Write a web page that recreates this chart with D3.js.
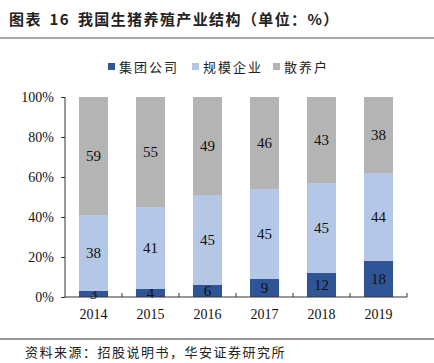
<!DOCTYPE html>
<html>
<head>
<meta charset="utf-8">
<script src="https://cdn.jsdelivr.net/npm/d3@7"></script>
<style>
body{margin:0;background:#fff;}
</style>
</head>
<body>
<div id="chart"></div>
<script>
var years=["2014","2015","2016","2017","2018","2019"];
var seriesNames=["集团公司","规模企业","散养户"];
var jituan=[3,4,6,9,12,18];
var guimo=[38,41,45,45,45,44];
var sanyang=[59,55,49,46,43,38];
var yTicks=[0,20,40,60,80,100];
var colors=["#2F5597","#B4C7E7","#B4B4B4"];

var W=434,H=363;
var cjk="'Noto Sans CJK SC', sans-serif";
var serif="'Liberation Serif', 'Times New Roman', serif";

var svg=d3.select("#chart").append("svg")
	.attr("width",W)
	.attr("height",H);

// title
svg.append("text")
	.attr("x",9)
	.attr("y",25)
	.attr("font-size","15px")
	.attr("font-weight","bold")
	.attr("font-family",cjk)
	.attr("letter-spacing","1.4px")
	.attr("word-spacing","3px")
	.attr("fill","#222")
	.text("图表 16 我国生猪养殖产业结构（单位：%）");
svg.append("line")
	.attr("x1",0).attr("x2",W)
	.attr("y1",38).attr("y2",38)
	.attr("stroke","#888").attr("stroke-width",1.5);

// legend
var legX=[108,192,273];
seriesNames.forEach(function(n,i){
	svg.append("rect")
		.attr("x",legX[i]).attr("y",63)
		.attr("width",7).attr("height",7)
		.attr("fill",colors[i]);
	svg.append("text")
		.attr("x",legX[i]+11).attr("y",72)
		.attr("font-size","13px")
		.attr("font-family",cjk)
		.attr("letter-spacing","2px")
		.attr("fill","#222")
		.text(n);
});

var x=d3.scaleBand().domain(years).range([65,407]).paddingInner(0.49).paddingOuter(0.245);
var y=d3.scaleLinear().domain([0,100]).range([297,97]);

var rows=years.map(function(yr,i){
	return {year:yr,jituan:jituan[i],guimo:guimo[i],sanyang:sanyang[i]};
});
var stack=d3.stack().keys(["jituan","guimo","sanyang"])(rows);

var layer=svg.selectAll("g.layer").data(stack).enter().append("g")
	.attr("class","layer")
	.attr("fill",function(d,i){return colors[i];});

layer.selectAll("rect").data(function(d){return d;}).enter().append("rect")
	.attr("x",function(d){return x(d.data.year);})
	.attr("y",function(d){return y(d[1]);})
	.attr("width",x.bandwidth())
	.attr("height",function(d){return y(d[0])-y(d[1]);});

layer.selectAll("text").data(function(d){return d;}).enter().append("text")
	.attr("x",function(d){return x(d.data.year)+x.bandwidth()/2;})
	.attr("y",function(d){return (y(d[0])+y(d[1]))/2+5;})
	.attr("text-anchor","middle")
	.attr("font-size","15px")
	.attr("font-family",serif)
	.attr("fill","#111")
	.text(function(d){return d[1]-d[0];});

// y axis
var yAxis=svg.append("g")
	.attr("transform","translate(65,0)")
	.call(d3.axisLeft(y).tickValues(yTicks).tickSize(4).tickFormat(function(d){return d+"%";}));
yAxis.selectAll("text")
	.attr("font-size","14px")
	.attr("font-family",serif)
	.attr("fill","#111")
	.attr("dx","-4");
yAxis.select(".domain").attr("stroke","#333").attr("d","M0,97V297");
yAxis.selectAll(".tick line").attr("stroke","#333");

// x axis
var xAxis=svg.append("g")
	.attr("transform","translate(0,297)")
	.call(d3.axisBottom(x).tickSize(0).tickPadding(12));
xAxis.select(".domain").attr("stroke","#333").attr("d","M65,0H407");
xAxis.selectAll("text")
	.attr("font-size","14px")
	.attr("font-family",serif)
	.attr("fill","#111");
var step=x.step();
years.forEach(function(yr,i){
	var bx=65+step*(i+1);
	xAxis.append("line")
		.attr("x1",bx).attr("x2",bx)
		.attr("y1",0).attr("y2",-4)
		.attr("stroke","#333");
});

// source
svg.append("line")
	.attr("x1",0).attr("x2",W)
	.attr("y1",339).attr("y2",339)
	.attr("stroke","#333").attr("stroke-width",1);
svg.append("text")
	.attr("x",25)
	.attr("y",357)
	.attr("font-size","13px")
	.attr("font-family",cjk)
	.attr("letter-spacing","1.5px")
	.attr("fill","#222")
	.text("资料来源：招股说明书，华安证券研究所");
</script>
</body>
</html>
